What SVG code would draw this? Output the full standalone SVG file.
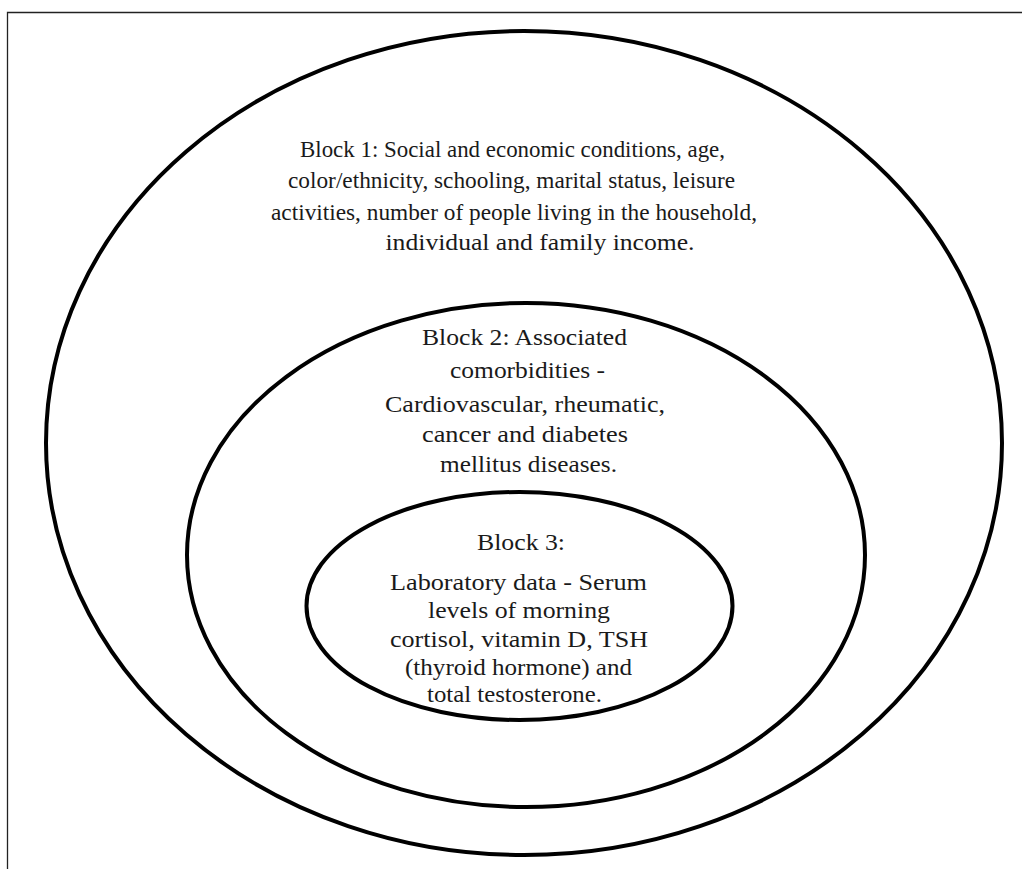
<svg xmlns="http://www.w3.org/2000/svg" width="1022" height="869" viewBox="0 0 1022 869">
<style>
.frame{stroke:#222;stroke-width:1.3;fill:none}
.ring{fill:none;stroke:#000;stroke-width:4}
.t{font-family:'Liberation Serif',serif;font-size:24px;fill:#1a1a1a;text-anchor:middle}
</style>
<rect width="1022" height="869" fill="#fff"/>
<path class="frame" d="M7.5 869 V12.5 H1022"/>
<g id="block1" font-family="Liberation Serif, serif">
<ellipse class="ring" cx="524" cy="443" rx="478" ry="412"/>
<text class="t" x="512.5" y="157" textLength="425" lengthAdjust="spacingAndGlyphs">Block 1: Social and economic conditions, age,</text>
<text class="t" x="511.5" y="188" textLength="447" lengthAdjust="spacingAndGlyphs">color/ethnicity, schooling, marital status, leisure</text>
<text class="t" x="514" y="220" textLength="486" lengthAdjust="spacingAndGlyphs">activities, number of people living in the household,</text>
<text class="t" x="540" y="250" textLength="309" lengthAdjust="spacingAndGlyphs">individual and family income.</text>
</g>
<g id="block2" font-family="Liberation Serif, serif">
<ellipse class="ring" cx="526" cy="555" rx="339" ry="252"/>
<text class="t" x="524.5" y="345" textLength="205" lengthAdjust="spacingAndGlyphs">Block 2: Associated</text>
<text class="t" x="527.5" y="378" textLength="155" lengthAdjust="spacingAndGlyphs">comorbidities -</text>
<text class="t" x="525" y="412" textLength="280" lengthAdjust="spacingAndGlyphs">Cardiovascular, rheumatic,</text>
<text class="t" x="525" y="442" textLength="206" lengthAdjust="spacingAndGlyphs">cancer and diabetes</text>
<text class="t" x="528.5" y="472" textLength="177" lengthAdjust="spacingAndGlyphs">mellitus diseases.</text>
</g>
<g id="block3" font-family="Liberation Serif, serif">
<ellipse class="ring" cx="519.5" cy="606" rx="213" ry="114"/>
<text class="t" x="521" y="550" textLength="88" lengthAdjust="spacingAndGlyphs">Block 3:</text>
<text class="t" x="518.5" y="590" textLength="257" lengthAdjust="spacingAndGlyphs">Laboratory data - Serum</text>
<text class="t" x="519" y="618" textLength="182" lengthAdjust="spacingAndGlyphs">levels of morning</text>
<text class="t" x="519" y="647" textLength="258" lengthAdjust="spacingAndGlyphs">cortisol, vitamin D, TSH</text>
<text class="t" x="518.5" y="675" textLength="227" lengthAdjust="spacingAndGlyphs">(thyroid hormone) and</text>
<text class="t" x="514.5" y="702" textLength="175" lengthAdjust="spacingAndGlyphs">total testosterone.</text>
</g>
<g id="connectors"/>
</svg>
